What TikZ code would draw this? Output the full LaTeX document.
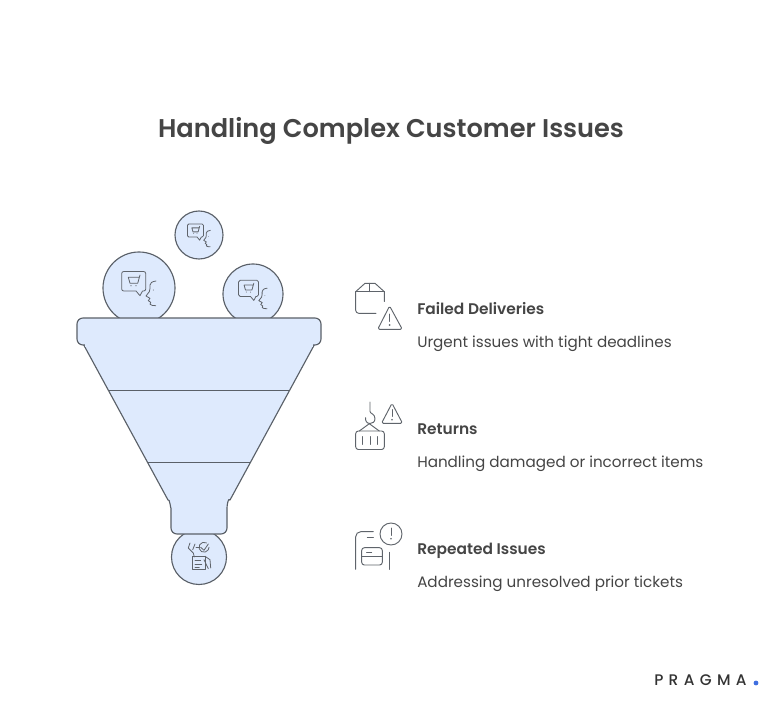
\documentclass[tikz,border=0pt]{standalone}
\usepackage{fontspec}
\setmainfont{Poppins}
\newfontfamily\semib{Poppins SemiBold}
\newfontfamily\logofont[LetterSpace=35]{Poppins Medium}
\definecolor{fillblue}{HTML}{DEEAFD}
\definecolor{stroke}{HTML}{5A6068}
\definecolor{iconc}{HTML}{5F646B}
\definecolor{textc}{HTML}{454545}
\definecolor{dotblue}{HTML}{3F6FE0}
\tikzset{
  part/.style={draw=stroke,fill=fillblue,line width=0.85pt,line join=round},
  sep/.style={draw=stroke,line width=0.75pt},
  ball/.style={circle,draw=stroke,fill=fillblue,line width=0.85pt,inner sep=0pt},
  ico/.style={draw=iconc,line width=0.7pt,line cap=round,line join=round},
  sico/.style={draw=iconc,line width=0.6pt,line cap=round,line join=round},
  titletext/.style={anchor=base,font=\fontsize{19.23}{24}\selectfont\semib,text=textc,inner sep=0pt},
  headtext/.style={anchor=base west,font=\fontsize{11.55}{13}\selectfont\semib,text=textc,inner sep=0pt},
  desctext/.style={anchor=base west,font=\fontsize{11.38}{14}\selectfont,text=textc,inner sep=0pt},
  logotext/.style={anchor=base west,font=\logofont\fontsize{11.5}{12}\selectfont,text=black!80,inner sep=0pt},
  chat/.pic={
    \draw[sico] (-15.3,-16.5) -- (4.7,-16.5) to[out=0,in=90] (6.7,-14.5) -- (6.7,1) to[out=-90,in=0] (4.7,3) -- (3.5,3) -- (1,7.7) -- (-3,3) -- (-15.3,3) to[out=180,in=-90] (-17.3,1) -- (-17.3,-14.5) to[out=90,in=180] cycle;
    \draw[sico] (-10.7,-10.7) -- (0,-10.7) (1,-13) -- (-1.3,-4.7) -- (-9,-4.7) -- (-10.7,-10.7);
    \fill[iconc] (-8,-2.3) circle (0.6) (-3,-2.3) circle (0.6);
    \draw[sico] (17,-7) .. controls (13,-6.5) and (11,-5) .. (11,-3) .. controls (11,0) and (11,2) .. (10.3,3.7) -- (7,8) -- (11,10.3) -- (9.3,12.7) -- (11.7,14.3) -- (11,16.3) .. controls (12,18) and (14,17) .. (16.7,17.7);
    \fill[iconc] (14.3,2) circle (0.5);
  }
}
\begin{document}
\begin{tikzpicture}[x=0.75pt,y=-0.75pt]
\useasboundingbox[fill=white] (0,0) rectangle (778,706);
\node[titletext] (title) at (391,138) {Handling Complex Customer Issues};
% balls
\node[ball,minimum size=48*0.75pt] (ballA) at (199,235) {};
\node[ball,minimum size=72*0.75pt] (ballB) at (139,288) {};
\node[ball,minimum size=60*0.75pt] (ballC) at (253,294) {};
\node[ball,minimum size=55*0.75pt] (ballD) at (199,557) {};
\pic[scale=0.667] at (199,235) {chat};
\pic at (139,288) {chat};
\pic[scale=0.833] at (253,294) {chat};
% funnel
\path[part] (83.5,344.5) -- (168,500) to[out=62,in=-90] (171,508) -- (171,528) to[out=-90,in=180] (177,534) -- (221,534) to[out=0,in=-90] (227,528) -- (227,508) to[out=90,in=118] (230,500) -- (314.5,344.5) -- cycle;
\path[part,rounded corners=6*0.75pt] (77,318) rectangle (321,345);
\fill[fillblue] (85,343) rectangle (313,347);
\draw[sep] (108.5,390) -- (289.5,390);
\draw[sep] (147.5,462) -- (250.5,462);
% icon bottom ball
\draw[sico] (192.3,556.3) -- (192.3,569.7) -- (205,569.7) -- (205,556.3) -- cycle;
\draw[sico] (195,560.7) -- (200.7,560.7) (195,564) -- (201.7,564) (195,567) -- (199.3,567);
\draw[sico] (206.5,542.9) arc[start angle=-60,end angle=-360,radius=5];
\draw[sico] (200.7,547.3) -- (204,550.3) -- (208.3,544);
\draw[sico] (190,543) -- (188.3,548) -- (193.3,553) -- (194.3,557);
\draw[sico] (195,544) -- (192.7,549.7);
\draw[sico] (196,547.3) -- (200,547.3);
\draw[sico] (205,556.3) -- (210,559.7) -- (210.7,568) (204,559.7) -- (208.3,568.7);
% failed deliveries icon
\draw[ico] (376,313.3) -- (358.7,313.3) to[out=180,in=-90] (355.7,310.3) -- (355.7,291.7) -- (365,283.3) -- (375,283.3) -- (384.3,291.7) -- (384.3,301.5);
\draw[ico] (355.7,291.7) -- (384.3,291.7) (369.7,283.3) -- (369.7,291.7);
\draw[ico,rounded corners=1.2pt] (389.6,306) -- (402.3,329.3) -- (377.7,329.3) -- cycle;
\draw[ico] (389.6,314) -- (389.6,321.5);
\fill[iconc] (389.6,325) circle (0.9);
% returns icon
\draw[ico] (370,402) -- (370,411.5) .. controls (370,413.5) and (375,414) .. (375,418.5) .. controls (375,422) and (372.5,423.5) .. (370,423.5) .. controls (367,423.5) and (365,421) .. (365.7,417.7);
\draw[ico] (369.3,423.7) -- (359.3,431) (369.3,423.7) -- (379.3,431);
\draw[ico,rounded corners=2pt] (355.7,431) rectangle (384.3,449.5);
\draw[ico] (362.7,436.7) -- (362.7,444.3) (370,436.7) -- (370,444.3) (377.3,436.7) -- (377.3,444.3);
\draw[ico,rounded corners=1.2pt] (392,403.3) -- (402.5,423.3) -- (381.5,423.3) -- cycle;
\draw[ico] (392,409.5) -- (392,416.5);
\fill[iconc] (392,419.7) circle (0.9);
% repeated icon
\draw[ico] (391,534) circle[radius=11];
\draw[ico] (391,528) -- (391,535.5);
\fill[iconc] (391,538.7) circle (0.9);
\draw[ico] (373.3,531.7) -- (360.7,531.7) to[out=180,in=90] (355.7,536.7) -- (355.7,569.3);
\draw[ico] (367.3,537.7) -- (373.3,537.7);
\draw[ico,rounded corners=2pt] (361.7,547.7) rectangle (382.3,565);
\draw[ico] (361.7,556.7) -- (382.3,556.7) (366.7,552.7) -- (371.7,552.7) (389,552.3) -- (389,569.3);
% texts
\node[headtext] (h1) at (417,314) {Failed Deliveries};
\node[desctext] (d1) at (417,347) {Urgent issues with tight deadlines};
\node[headtext] (h2) at (417,434) {Returns};
\node[desctext] (d2) at (417,467) {Handling damaged or incorrect items};
\node[headtext] (h3) at (417,554) {Repeated Issues};
\node[desctext] (d3) at (417,587) {Addressing unresolved prior tickets};
\node[logotext] (logo) at (654,685) {PRAGMA};
\fill[dotblue] (756,683) circle (2.4);
\end{tikzpicture}
\end{document}
